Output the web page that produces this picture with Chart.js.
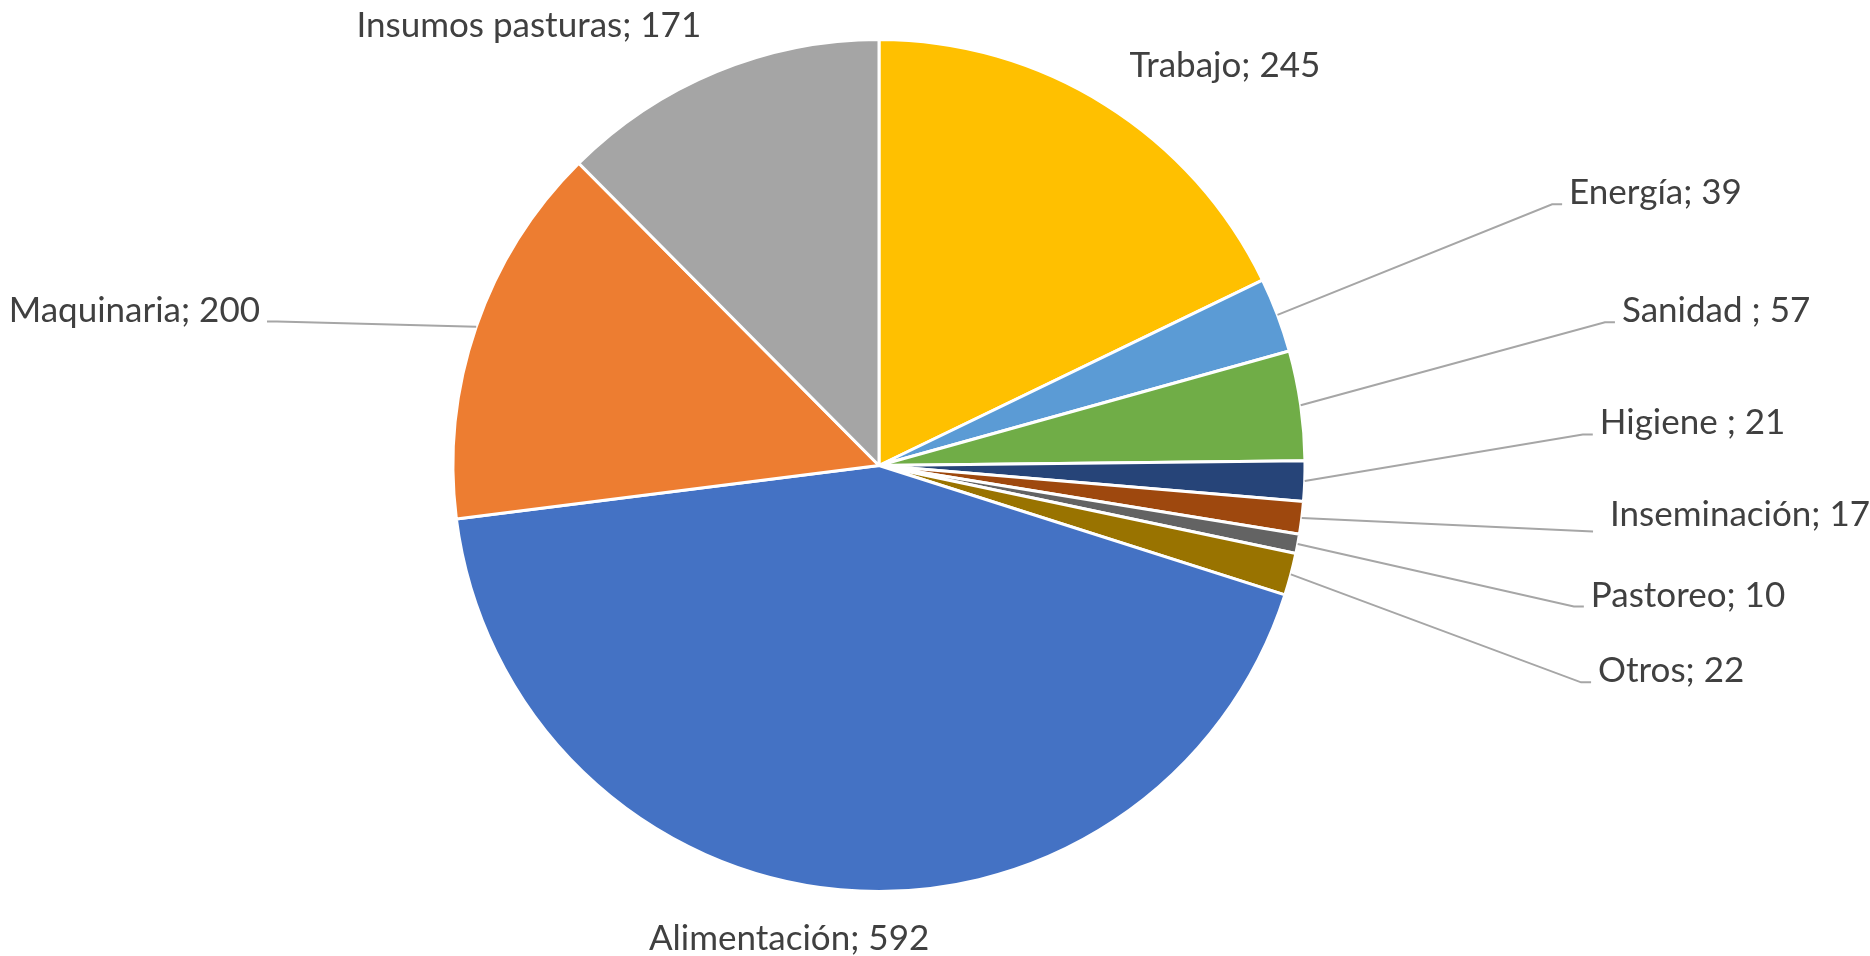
<!DOCTYPE html>
<html>
<head>
<meta charset="utf-8">
<script src="https://cdn.jsdelivr.net/npm/chart.js@4.4.1/dist/chart.umd.min.js"></script>
<style>
  html, body { margin: 0; padding: 0; background: #ffffff; }
  #wrap { width: 1870px; height: 956px; position: relative; }
</style>
</head>
<body>
<div id="wrap"><canvas id="pieChart"></canvas></div>
<script>
// Costos por rubro
const categories = ['Trabajo', 'Energía', 'Sanidad ', 'Higiene ', 'Inseminación', 'Pastoreo', 'Otros', 'Alimentación', 'Maquinaria', 'Insumos pasturas'];
const values = [245, 39, 57, 21, 17, 10, 22, 592, 200, 171];
const sliceColors = ['#FFC000', '#5B9BD5', '#70AD47', '#264478', '#9E480E', '#636363', '#997300', '#4472C4', '#ED7D31', '#A5A5A5'];

// label placement, in units of the pie radius from its centre (x, baseline y)
const labelPlace = [
    { dx: 0.812, dy: -0.913, align: 'center', leader: false },
    { dx: 1.620, dy: -0.613, align: 'left', leader: true },
    { dx: 1.744, dy: -0.336, align: 'left', leader: true },
    { dx: 1.692, dy: -0.073, align: 'left', leader: true },
    { dx: 1.716, dy: 0.141, align: 'left', leader: 'straight' },
    { dx: 1.671, dy: 0.331, align: 'left', leader: true },
    { dx: 1.688, dy: 0.509, align: 'left', leader: true },
    { dx: -0.211, dy: 1.138, align: 'center', leader: false },
    { dx: -1.453, dy: -0.338, align: 'right', leader: true },
    { dx: -0.822, dy: -1.005, align: 'center', leader: false }
];

const pieLabels = {
    id: 'pieLabels',
    afterDatasetsDraw(chart) {
        const ctx = chart.ctx;
        const meta = chart.getDatasetMeta(0);
        ctx.save();
        ctx.font = '35px Lato';
        ctx.textBaseline = 'alphabetic';
        meta.data.forEach((arc, i) => {
            const p = arc.getProps(['x', 'y', 'startAngle', 'endAngle', 'outerRadius'], true);
            const r = p.outerRadius;
            const mid = (p.startAngle + p.endAngle) / 2;
            const place = labelPlace[i];
            const tx = p.x + place.dx * r;
            const ty = p.y + place.dy * r;
            const text = categories[i] + '; ' + values[i];

            if (place.leader) {
                const ex = p.x + Math.cos(mid) * r;
                const ey = p.y + Math.sin(mid) * r;
                const dir = place.align === 'right' ? 1 : -1;
                ctx.strokeStyle = '#A6A6A6';
                ctx.lineWidth = 2;
                ctx.beginPath();
                ctx.moveTo(ex, ey);
                if (place.leader === 'straight') {
                    ctx.lineTo(tx + dir * 17, ty + 6);
                } else {
                    ctx.lineTo(tx + dir * 17, ty);
                    ctx.lineTo(tx + dir * 7, ty);
                }
                ctx.stroke();
            }

            ctx.fillStyle = '#404040';
            ctx.textAlign = place.align;
            ctx.fillText(text, tx, ty);
        });
        ctx.restore();
    }
};

new Chart(document.getElementById('pieChart'), {
    type: 'pie',
    data: {
        labels: categories,
        datasets: [{
            data: values,
            backgroundColor: sliceColors,
            borderColor: '#ffffff',
            borderWidth: 3
        }]
    },
    options: {
        responsive: true,
        maintainAspectRatio: false,
        animation: false,
        layout: { padding: { top: 38, bottom: 63, left: 0, right: 112 } },
        plugins: {
            legend: { display: false },
            tooltip: { enabled: false }
        }
    },
    plugins: [pieLabels]
});
</script>
</body>
</html>
